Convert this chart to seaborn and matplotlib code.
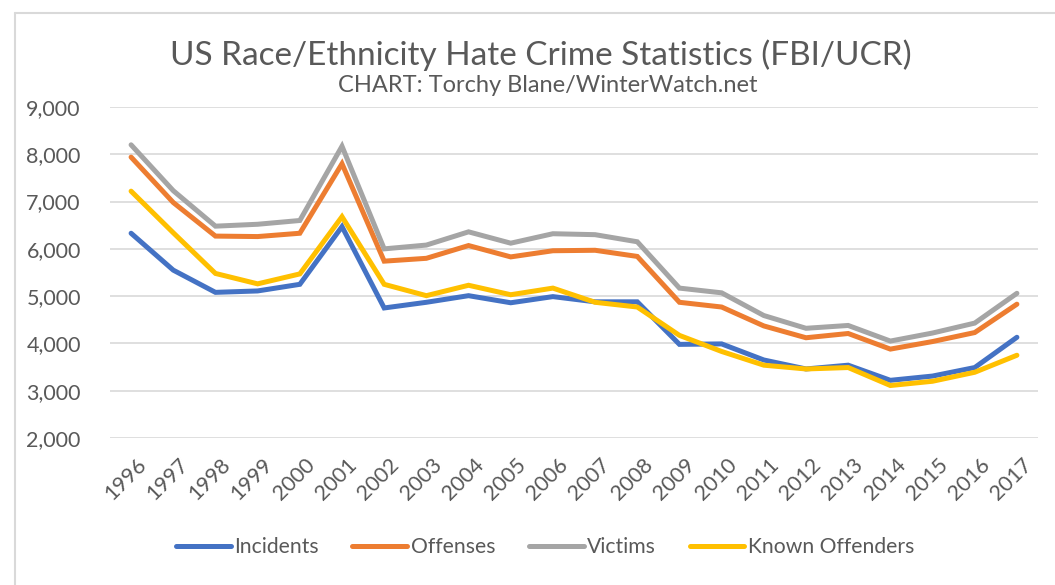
import matplotlib
matplotlib.use("Agg")
import matplotlib.pyplot as plt
import matplotlib.lines as mlines
import matplotlib.transforms as mtransforms
import seaborn as sns
import pandas as pd
from matplotlib.ticker import FuncFormatter

years = list(range(1996, 2018))
incidents = [6330, 5550, 5080, 5110, 5250, 6470, 4750, 4870, 5010, 4860, 4990,
             4880, 4880, 3980, 3990, 3650, 3460, 3540, 3220, 3310, 3490, 4130]
offenses = [7940, 6980, 6270, 6260, 6330, 7800, 5740, 5800, 6070, 5830, 5960,
            5970, 5840, 4870, 4770, 4370, 4120, 4210, 3880, 4040, 4230, 4830]
victims = [8200, 7230, 6480, 6520, 6600, 8170, 6000, 6080, 6360, 6120, 6320,
           6300, 6150, 5170, 5070, 4590, 4320, 4380, 4050, 4220, 4430, 5060]
known_offenders = [7220, 6340, 5480, 5260, 5470, 6680, 5250, 5010, 5230, 5030, 5170,
                   4870, 4770, 4170, 3830, 3540, 3460, 3490, 3110, 3200, 3390, 3750]
series_names = ["Incidents", "Offenses", "Victims", "Known Offenders"]
colors = ["#4472C4", "#ED7D31", "#A5A5A5", "#FFC000"]

df = pd.DataFrame({"year": years, "Incidents": incidents, "Offenses": offenses,
                   "Victims": victims, "Known Offenders": known_offenders})
long_df = df.melt(id_vars="year", var_name="series", value_name="count")

sns.set_style("white")
plt.rcParams["font.family"] = ["Lato", "DejaVu Sans"]
text_color = "#595959"

fig = plt.figure(figsize=(10.55, 5.85), dpi=100)
ax = fig.add_axes([110 / 1055, 1 - 438 / 585, 928 / 1055, 331 / 585])

sns.lineplot(data=long_df, x="year", y="count", hue="series", hue_order=series_names,
             palette=colors, linewidth=3.6, ax=ax, legend=False)
for ln in ax.lines:
    ln.set_solid_capstyle("round")
    ln.set_solid_joinstyle("miter")

ax.set_xlim(1995.5, 2017.5)
ax.set_ylim(2000, 9000)
ax.set_yticks(range(2000, 9001, 1000))
ax.yaxis.set_major_formatter(FuncFormatter(lambda v, p: f"{int(v):,}"))
ax.set_xticks(years)
ax.set_xticklabels([str(y) for y in years], rotation=45, ha="right", rotation_mode="anchor")
ax.tick_params(axis="both", length=0, labelsize=15.5, colors=text_color)
ax.tick_params(axis="y", pad=21)
ax.tick_params(axis="x", pad=12)
shift = mtransforms.ScaledTranslation(5 / 100, 0, fig.dpi_scale_trans)
for lbl in ax.get_xticklabels():
    lbl.set_transform(lbl.get_transform() + shift)
ax.yaxis.grid(True, color="#D9D9D9", linewidth=1.2)
ax.set_axisbelow(True)
for s in ax.spines.values():
    s.set_visible(False)
ax.set_xlabel("")
ax.set_ylabel("")

fig.text(541 / 1055, 1 - 55 / 585, "US Race/Ethnicity Hate Crime Statistics (FBI/UCR)",
         ha="center", va="center", fontsize=24, color=text_color)
fig.text(548 / 1055, 1 - 86 / 585, "CHART: Torchy Blane/WinterWatch.net",
         ha="center", va="center", fontsize=17, color=text_color)

handles = [mlines.Line2D([], [], color=c, linewidth=3.6, solid_capstyle="round")
           for c in colors]
fig.legend(handles, series_names, loc="center", bbox_to_anchor=(545 / 1055, 1 - 547 / 585),
           ncol=4, frameon=False, fontsize=15.2, handlelength=2.6, handletextpad=0.15,
           columnspacing=1.6, labelcolor=text_color)

# chart area border
fig.add_artist(mlines.Line2D([15 / 1055, 15 / 1055], [0, 1 - 13 / 585],
                             transform=fig.transFigure, color="#D9D9D9", linewidth=1.5))
fig.add_artist(mlines.Line2D([15 / 1055, 1], [1 - 13 / 585, 1 - 13 / 585],
                             transform=fig.transFigure, color="#D9D9D9", linewidth=1.5))

fig.savefig("out.png", dpi=100)
